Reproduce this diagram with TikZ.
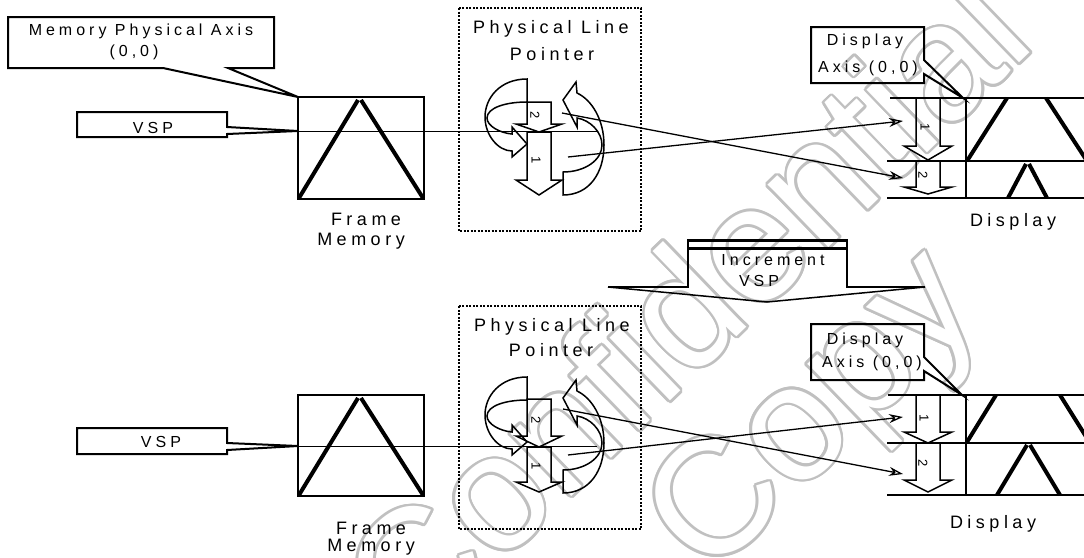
\documentclass[tikz,border=0pt]{standalone}
\usepackage{fontspec}
\setmainfont{Liberation Sans}[LetterSpace=25]
\newfontfamily\wmfont{Liberation Sans}
\usetikzlibrary{arrows.meta}
\definecolor{wmgray}{RGB}{192,192,192}
\begin{document}
\begin{tikzpicture}[x=1pt,y=-1pt,
  box/.style={draw, line width=2pt, line join=miter},
  vline/.style={line width=1.5pt},
  tri/.style={line width=4pt},
  lbl/.style={font=\fontsize{16}{18}\selectfont, inner sep=0pt, anchor=base},
  blbl/.style={font=\fontsize{18}{20}\selectfont, inner sep=0pt, anchor=base},
  num/.style={font=\fontsize{13}{14}\selectfont, inner sep=0pt, rotate=-90},
  barrow/.style={draw, line width=1.5pt, line join=miter},
  carrow/.style={draw, line width=1.5pt, line join=miter},
  ptr/.style={line width=1.3pt, -{Stealth[open, length=14pt, width=9pt]}},
  dotbox/.style={draw, line width=2pt, dash pattern=on 2pt off 1.5pt},
  wm/.style={font=\wmfont\fontsize{165}{165}\selectfont, inner sep=0pt, rotate=44, anchor=base},
]
\useasboundingbox (0,0) rectangle (1084,557);

% ---------- watermark ----------
\foreach \a in {0,22.5,...,337.5}{
  \pgfmathsetmacro\dx{2.6*cos(\a)}
  \pgfmathsetmacro\dy{2.6*sin(\a)}
  \node[wm, text=wmgray, xshift=\dx pt, yshift=\dy pt] at (725,348) {Confidential};
  \node[wm, text=wmgray, xshift=\dx pt, yshift=\dy pt] at (847,447) {Copy};
}
\node[wm, text=white] (wm1) at (725,348) {Confidential};
\node[wm, text=white] (wm2) at (847,447) {Copy};

\newcommand\blockdown[5]{%
  \draw[barrow] ({#1-12},#2) -- ({#1+12},#2) -- ({#1+12},#3) -- ({#1+#5},#3) -- (#1,#4) -- ({#1-#5},#3) -- ({#1-12},#3) -- cycle;}
\newcommand\curvepair{%
  \draw[carrow] (527,79) .. controls (500,79) and (485,98) .. (485,117) .. controls (485,135) and (498,151) .. (512,151) -- (512,157) -- (527,144) -- (512,127) -- (512,134) .. controls (500,133) and (487,126) .. (487,118) .. controls (487,108) and (505,102) .. (527,102) -- cycle;
  \draw[carrow] (563,195) .. controls (590,195) and (604,172) .. (604,145) .. controls (604,120) and (592,100) .. (577,93) -- (576,82) -- (563,100) -- (577,127) -- (577,118) .. controls (590,120) and (602,132) .. (602,145) .. controls (602,160) and (585,172) .. (563,172) -- cycle;}

% =============== TOP ===============
% Memory Physical Axis callout
\draw[box] (8,17) -- (274,17) -- (274,68) -- (228,68) -- (298,97) -- (163,68) -- (8,68) -- cycle;
\node[lbl] (mpa1) at (141,35) {Memory Physical Axis};
\node[lbl] (mpa2) at (134,56) {(0,0)};
% VSP callout
\coordinate (vspA) at (298,131);
\draw[box] (vspA) -- (227,127) -- (227,112) -- (77,112) -- (77,137) -- (227,137) -- (227,134) -- cycle;
\node[lbl] (vspTa) at (153,133) {VSP};
% Frame memory
\draw[box] (298,97) rectangle (424,199);
\draw[tri] (299,198) -- (358,100);
\draw[tri] (361,100) -- (423,198);
\node[blbl] (fmA1) at (366,225) {Frame};
\node[blbl] (fmA2) at (361,245) {Memory};
% Physical line pointer
\draw[dotbox] (459,8) rectangle (641,231);
\node[blbl] (plpA1) at (551,33) {Physical Line};
\node[blbl] (plpA2) at (552,60) {Pointer};
\curvepair
\blockdown{539}{102}{124}{132}{23}
\blockdown{539}{132}{180}{195}{23}
\node[num] (pA2) at (535,115) {2};
\node[num] (pA1) at (536,160) {1};
\coordinate (vspAend) at (597,131);
\draw[line width=1pt] (vspA) -- (vspAend);
% Display callout
\draw[box] (963,98) -- (924,74) -- (924,83) -- (811,83) -- (811,27) -- (924,27) -- (924,60) -- cycle;
\node[lbl] (daA1) at (865,45) {Display};
\node[lbl] (daA2) at (868,72) {Axis (0,0)};
% Display
\draw[vline] (890,98) -- (1084,98);
\draw[vline] (887,161) -- (1084,161);
\draw[vline] (887,198) -- (1084,198);
\draw[line width=2pt] (966,98) -- (966,198);
\draw[tri] (967,161) -- (1007,98);
\draw[tri] (1046,98) -- (1087,161);
\draw[tri] (1008,198) -- (1026,164);
\draw[tri] (1029,164) -- (1047,198);
\blockdown{928}{98}{146}{160}{24}
\blockdown{928}{161}{187}{194}{24}
\node[num] (dA1) at (925,127) {1};
\node[num] (dA2) at (923,175) {2};
\node[blbl] (dispA) at (1013,226) {Display};
% crossing pointers
\coordinate (pa1) at (568,157);
\coordinate (da1) at (903,121);
\coordinate (pa2) at (562,113);
\coordinate (da2) at (903,178);
\draw[ptr] (pa1) -- (da1);
\draw[ptr] (pa2) -- (da2);

% =============== Increment VSP ===============
\draw[line width=2pt] (688,240) -- (688,287) -- (608,287);
\draw[line width=2pt] (847,240) -- (847,287) -- (925,287);
\draw[line width=1.5pt] (608,287) -- (767,302) -- (925,287);
\draw[line width=3pt] (687,240) -- (848,240);
\draw[line width=3pt] (687,248) -- (848,248);
\node[lbl] (inc1) at (773,265) {Increment};
\node[lbl] (inc2) at (759,286) {VSP};

% =============== BOTTOM ===============
\coordinate (vspB) at (298,446);
\draw[box] (vspB) -- (227,443) -- (227,428) -- (77,428) -- (77,454) -- (227,454) -- (227,450) -- cycle;
\node[lbl] (vspTb) at (161,447) {VSP};
\draw[box] (298,395) rectangle (424,496);
\draw[tri] (299,495) -- (358,398);
\draw[tri] (361,398) -- (423,495);
\node[blbl] (fmB1) at (371,534) {Frame};
\node[blbl] (fmB2) at (371,551) {Memory};
\draw[dotbox] (459,306) rectangle (641,529);
\node[blbl] (plpB1) at (552,331) {Physical Line};
\node[blbl] (plpB2) at (551,356) {Pointer};
\begin{scope}[yshift=-298pt]
\curvepair
\end{scope}
\blockdown{539}{399}{436}{447}{23}
\blockdown{539}{447}{482}{492}{23}
\node[num] (pB2) at (536,420) {2};
\node[num] (pB1) at (536,466) {1};
\coordinate (vspBend) at (597,446);
\draw[line width=1pt] (vspB) -- (vspBend);
\draw[box] (962,395) -- (924,371) -- (924,380) -- (811,380) -- (811,324) -- (924,324) -- (924,357) -- cycle;
\node[lbl] (daB1) at (865,344) {Display};
\node[lbl] (daB2) at (872,367) {Axis (0,0)};
\draw[vline] (888,395) -- (1084,395);
\draw[vline] (887,443) -- (1084,443);
\draw[vline] (887,495) -- (1084,495);
\draw[line width=2pt] (966,395) -- (966,495);
\draw[tri] (967,442) -- (996,395);
\draw[tri] (1060,395) -- (1090,443);
\draw[tri] (997,495) -- (1027,445);
\draw[tri] (1030,445) -- (1060,495);
\blockdown{928}{395}{432}{443}{24}
\blockdown{928}{443}{480}{492}{24}
\node[num] (dB1) at (924,418) {1};
\node[num] (dB2) at (923,463) {2};
\node[blbl] (dispB) at (993,528) {Display};
\coordinate (pb1) at (568,455);
\coordinate (db1) at (903,417);
\coordinate (pb2) at (563,409);
\coordinate (db2) at (903,474);
\draw[ptr] (pb1) -- (db1);
\draw[ptr] (pb2) -- (db2);
\end{tikzpicture}
\end{document}
